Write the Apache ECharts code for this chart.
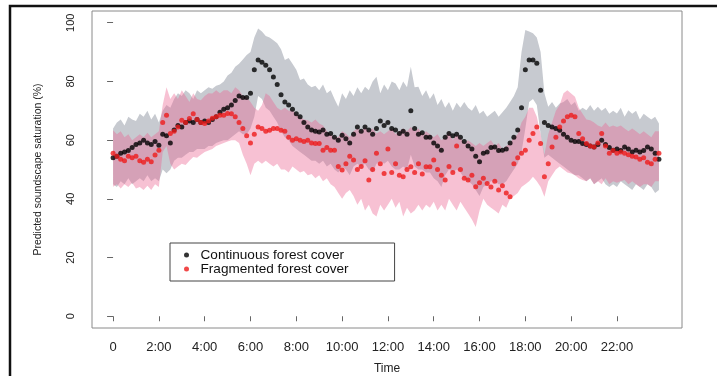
<!DOCTYPE html>
<html>
<head>
<meta charset="utf-8">
<script src="https://cdn.jsdelivr.net/npm/echarts@6/dist/echarts.min.js"></script>
<style>
  html, body { margin: 0; padding: 0; background: #fff; }
  #chart { width: 717px; height: 376px; }
</style>
</head>
<body>
<div id="chart"></div>
<script>
// samples every 10 minutes, 00:00 .. 23:50
const stepMinutes = 10;

// predicted saturation, continuous forest (mean of model)
const contMean = [
  54,54.5,55.5,56,56.5,57.5,58.5,59,60,59,58.5,59.5,
  58.3,62,61.5,59,63.5,65,64.5,66,66.5,66,67,66,
  66.5,66,67,68,69.5,70.5,71,72,73.5,75,74.5,74.5,
  76,84,87.3,86.5,85.5,84,81.5,79,75.5,73,72,70.5,
  69,68,66,64.5,63.5,63,62.8,63.5,62,62.3,61,60,
  61.7,60.5,59,62,64.5,63,64.5,63.5,62,64,66.5,65,
  66,64,63.5,62.3,63,62,70,64,62,62.5,61,61,
  59,58,56.6,61,62.3,61.5,62,61,59.5,58,57,54.5,
  52.6,55.5,56,57.5,57.7,56.5,56.6,57,59,61,63.5,71,
  84,87.3,87.3,86.2,77,66,65,64.5,64,63.4,62,61,
  60,59.5,59.5,58.9,58.5,58,57.7,58.5,60,58.5,57.5,56.6,
  57,56.5,57.7,57,56,56.6,56,56.5,57.7,57,55.5,53.5
];
const contUpper = [
  64,66,67,65,68,67,66.5,69,68,70,67,69,
  66,70,72,71,74,76,75,77,76,74,77,76,
  77,78,77.5,78.5,79,80,82,83,85,86,87.5,89,
  90,95,98,97,95.5,95,94,93,91,87.3,88,86,
  84,80.5,81,79,78,78.5,77,79,76,77,74,71.4,
  76,74,77,75,78,76,78.2,77,80,81.6,76,79,
  77,80,79.3,77,80,78,85,78,78.2,75,77,74,
  76,72,74,71,73,70,72.7,71,73,71,70,72,
  69,70,68,69,70,68,69.5,71,73,75,78,90,
  97.5,97,96.4,95,90,76,71.4,73,71,72.5,73,74,
  72,73,70,71,70.2,72,70,71.4,70,71,69,70,
  69.1,71,68,70.2,69,70,67,69,68,67,68,65.7
];
const contLower = [
  45,44,46,45,47,45,46,47,46,48,46,47,
  46,50,48.7,50,53,54,54,55,56,56,57,57,
  57,58,58,59,59.5,60,60,61,62,63,62,62,
  64,68,75,74,71,70,68,66,63,61,60,58,
  57,56,55,54,53,53,52,53,51,52,50,49,
  51,50,48,51,52,51,52,50,49,52,53,52,
  53,51,50,50,51,50,55,51,50,50,49,49,
  47,46,44,48,50,49,50,49,47,46,45,43,
  41,44,45,46,46,45,45,46,48,50,52,56,
  64,73,74,72,62,54,55,54,53,52,51,50,
  49,48,48,47,46,47,45,46,47,45,44,45,
  44,46,45,44,43,45,44,43,45,44,42,43
];

// predicted saturation, fragmented forest
const fragMean = [
  55.5,54.5,53.5,53,54.5,54,54.5,53,52.5,53.5,52.6,54.9,
  56.6,66,68.5,62.3,63,64.5,66.8,66,67.4,69,67,66,
  65.7,66.5,67.5,68,68.5,68.5,69.1,69,68,66,64,61.5,
  59,62,64.5,64,63,63.4,64,64,63.4,63,61,60,
  60.5,60,59.5,60,59,58.9,58.9,56.6,57.5,56.6,56.6,51,
  49.8,52,54.5,53.2,50,51,53,46.4,50,55.5,52,48.6,
  57,49,52,48,47.5,50,50.9,49,52,48.5,50.9,50.9,
  53.2,50,48,46.4,51,49,58,50,47,46.4,48,44.1,
  45.5,47,45.2,44,46,43,44.5,42,40.7,52,54,55.5,
  56.6,60,62.3,64.5,58.9,47.5,52,57.7,61,64.5,66.5,68,
  68.5,68,62.3,60.5,58.9,58,57.7,59,62.3,58,55.5,56.5,
  55.5,56,55.5,55,54.5,54.3,53.5,54,52.5,52,53.5,55.5
];
const fragUpper = [
  63.4,62,63,61,62,60,61,62,61,62.5,61,62,
  63,72,78,74,76,74,77,75,73,76,74,73.6,
  75,76,75.9,77,76,77,77,76,78,77,75,74.8,
  73,71,70,72,76,75,73,71,70.2,71,70,70.2,
  69,68,67,66.8,66,67,65.7,65,63,62,61.1,61,
  63,62.3,61,63,64,63,64.5,63,64,62.3,63,62,
  63,64,62,63,64,63,64.5,63,64,62,63,62,
  61,62,60,61,63,60,62,61,59,60,59,58,
  59,58,59,60,58,59,57,58,59,61,62,66,
  68,71,71,68,62,55,62,66,70,72,76,77,
  75.9,74.8,71,69,67,66.8,66,65,64.5,66,64.5,65,
  64.5,65,64,63,64,63,62,63,62,61,63,63
];
const fragLower = [
  44.1,45,43.5,45,44,45.5,43.5,44,43,44.5,43,45,
  44,56,58,52,50,51,52,51.5,53,54.3,54,55,
  56,56.5,57,58,58.5,59,59.5,60,60,59,55,52,
  48,52,53,52,53,52,51,52,50,50,49,51,
  50,49,49.5,48,48.5,47,48,46,47,45,44,42,
  40,42,43,41,38,40,36,38,35,34,38,36,
  38,40,37,39,34,37,35,36,38,36,38,37,
  39,36,38,36,40,38,36,39,37,35,33,30.4,
  36,40,38,37,36,35,38,37,40,41,42,44,
  45,46,47.5,46,44,40.7,46,48,50,51,50,49,
  48.6,48,47,46.4,46,47,45,46,45,47,45,46,
  45.5,46,46.4,45,46,45,44,45,45,44,46,46
];

const xTickHours = [0, 2, 4, 6, 8, 10, 12, 14, 16, 18, 20, 22];
const xTickLabels = ["0", "2:00", "4:00", "6:00", "8:00", "10:00", "12:00", "14:00", "16:00", "18:00", "20:00", "22:00"];
const yTicks = [0, 20, 40, 60, 80, 100];

const seriesNames = ["Continuous forest cover", "Fragmented forest cover"];

const hours = contMean.map((_, i) => (i * stepMinutes) / 60);
const pair = (arr) => arr.map((v, i) => [hours[i], v]);

const FONT = "Liberation Sans, Arial, Helvetica, sans-serif";

const chart = echarts.init(document.getElementById("chart"), null, { renderer: "canvas" });

// confidence band: one polygon, upper edge forward then lower edge back
function band(lower, upper, color) {
  return {
    type: "custom",
    silent: true,
    z: 1,
    data: [[hours[0], lower[0]]],
    renderItem: (params, api) => {
      const top = upper.map((v, i) => api.coord([hours[i], v]));
      const bottom = lower.map((v, i) => api.coord([hours[i], v])).reverse();
      return {
        type: "polygon",
        shape: { points: top.concat(bottom) },
        style: { fill: color, stroke: null },
      };
    },
  };
}

chart.setOption({
  animation: false,
  textStyle: { fontFamily: FONT },
  grid: {
    left: 92,
    right: 35,
    top: 11,
    bottom: 48,
    outerBoundsMode: "none",
    show: true,
    borderColor: "#8a8a8a",
    borderWidth: 1,
  },
  graphic: [
    {
      type: "rect",
      shape: { x: 10, y: 6, width: 760, height: 420 },
      style: { fill: "none", stroke: "#111", lineWidth: 2.5 },
      silent: true,
      z: 100,
    },
  ],
  legend: {
    data: seriesNames,
    orient: "vertical",
    left: 170,
    top: 243,
    padding: [5, 46, 5, 14],
    itemGap: 0,
    itemWidth: 18,
    itemHeight: 5,
    icon: "circle",
    borderColor: "#444",
    borderWidth: 1,
    backgroundColor: "#fff",
    textStyle: { fontSize: 13.6, color: "#111", lineHeight: 13.3, fontFamily: FONT },
  },
  xAxis: {
    type: "value",
    min: -0.92,
    max: 24.84,
    splitLine: { show: false },
    axisLine: { show: false },
    axisTick: {
      show: true,
      customValues: xTickHours,
      length: 5,
      lineStyle: { color: "#666" },
    },
    axisLabel: {
      customValues: xTickHours,
      formatter: (v) => xTickLabels[xTickHours.indexOf(v)] ?? "",
      fontSize: 13,
      color: "#222",
      margin: 13,
    },
    name: "Time",
    nameLocation: "middle",
    nameGap: 35,
    nameTextStyle: { fontSize: 12, color: "#222" },
  },
  yAxis: {
    type: "value",
    min: -4,
    max: 104,
    splitLine: { show: false },
    axisLine: { show: false },
    axisTick: {
      show: true,
      customValues: yTicks,
      length: 6,
      lineStyle: { color: "#666" },
    },
    axisLabel: {
      customValues: yTicks,
      rotate: 90,
      fontSize: 11,
      color: "#222",
      margin: 16,
    },
    name: "Predicted soundscape saturation (%)",
    nameLocation: "middle",
    nameRotate: 90,
    nameGap: 48,
    nameTextStyle: { fontSize: 10.5, color: "#222" },
  },
  series: [
    band(contLower, contUpper, "rgb(199,202,208)"),
    band(fragLower, fragUpper, "rgba(236,100,145,0.4)"),
    {
      name: seriesNames[0],
      type: "scatter",
      data: pair(contMean),
      symbol: "circle",
      symbolSize: 5,
      itemStyle: { color: "#000" },
      z: 3,
    },
    {
      name: seriesNames[1],
      type: "scatter",
      data: pair(fragMean),
      symbol: "circle",
      symbolSize: 5,
      itemStyle: { color: "#ee1c1c" },
      z: 4,
    },
  ],
});
</script>
</body>
</html>
